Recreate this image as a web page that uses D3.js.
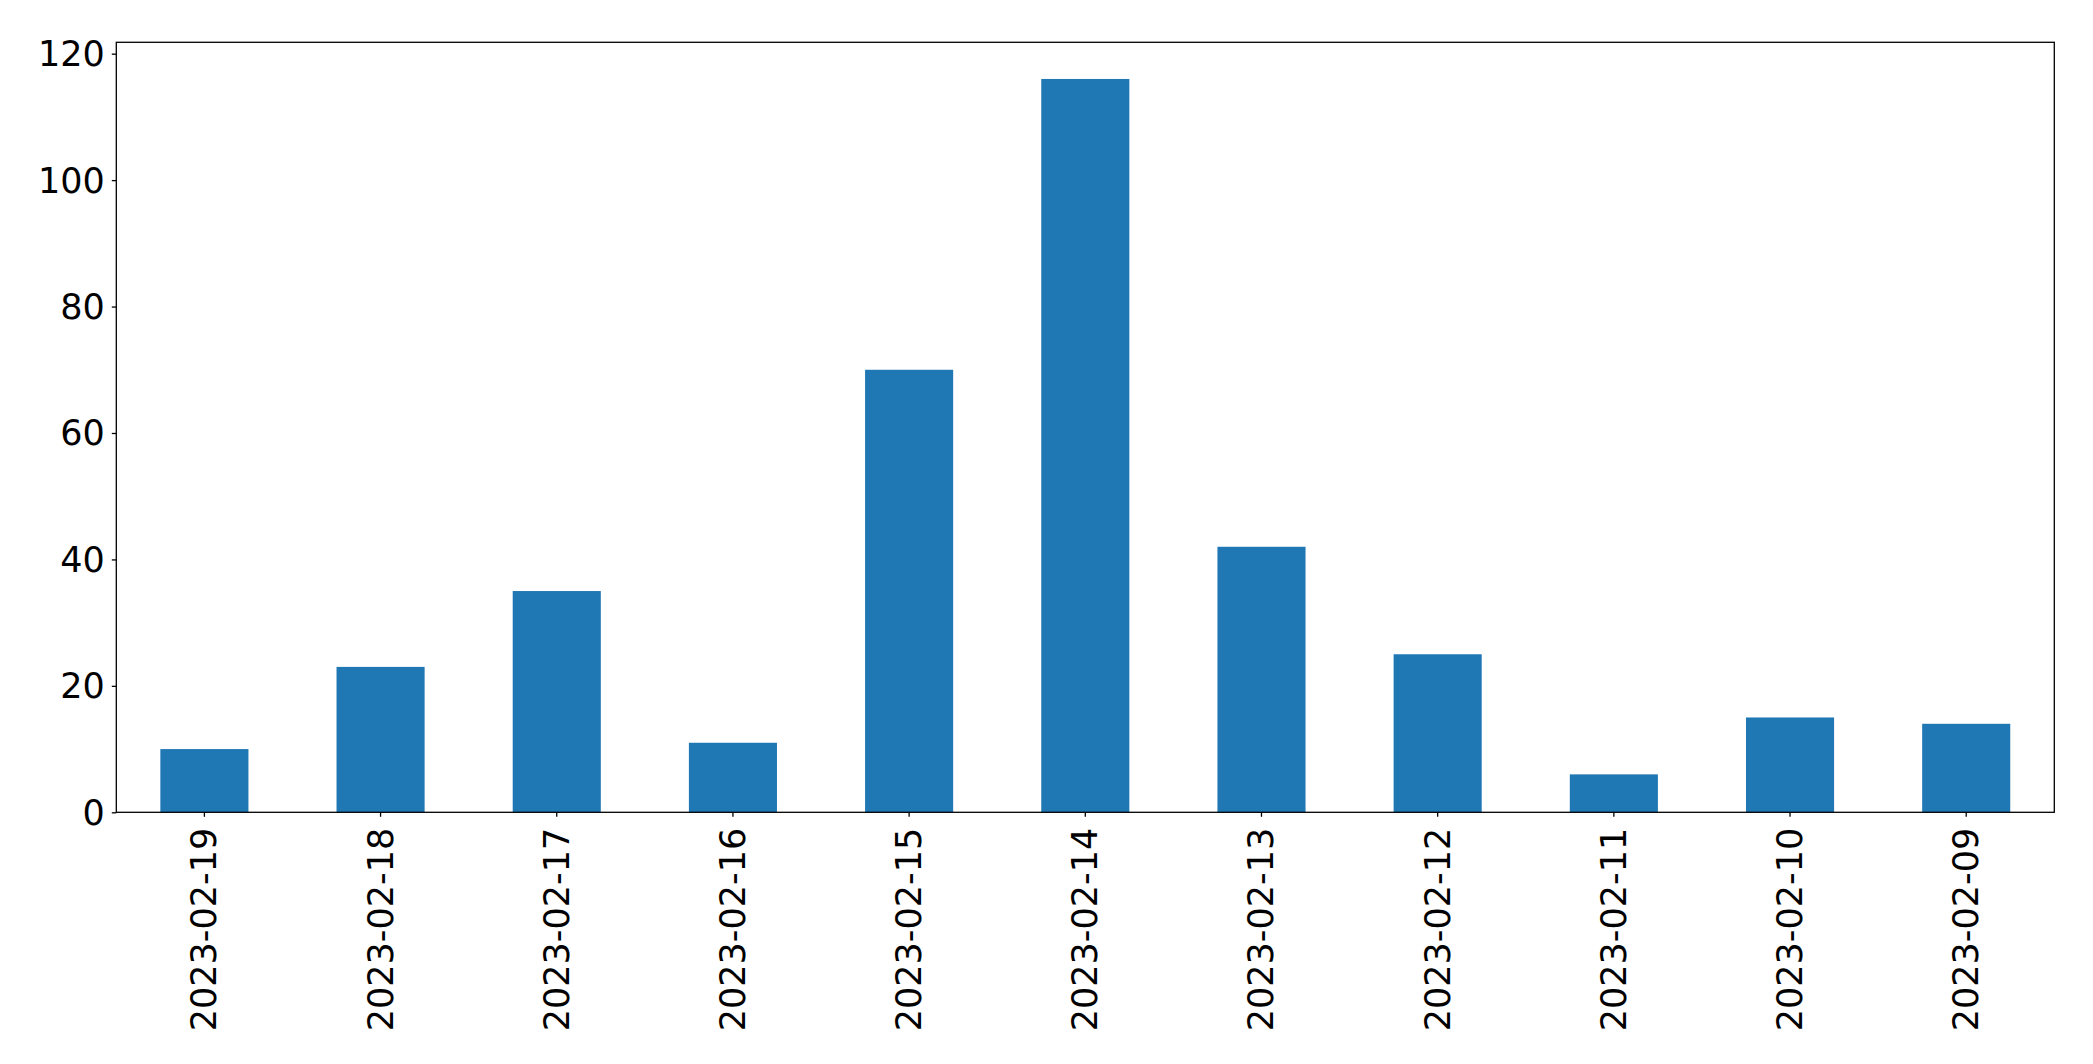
<!DOCTYPE html>
<html>
<head>
<meta charset="utf-8">
<script src="https://cdn.jsdelivr.net/npm/d3@7"></script>
<style>
  html, body { margin: 0; padding: 0; background: #fff; }
  svg { display: block; }
</style>
</head>
<body>
<svg id="chart" width="2093" height="1064"></svg>
<script>
const categories = ["2023-02-19","2023-02-18","2023-02-17","2023-02-16","2023-02-15","2023-02-14","2023-02-13","2023-02-12","2023-02-11","2023-02-10","2023-02-09"];
const values = [10, 23, 35, 11, 70, 116, 42, 25, 6, 15, 14];
const yTicks = [0, 20, 40, 60, 80, 100, 120];

const W = 2093, H = 1064;
const margin = { left: 116.3, right: W - 2054.3, top: 42.3, bottom: H - 812.3 };
const iw = W - margin.left - margin.right;
const ih = H - margin.top - margin.bottom;
const fontSize = 35;
const tickLen = 4.5;

const svg = d3.select("#chart");
const g = svg.append("g").attr("transform", `translate(${margin.left},${margin.top})`);

const x = d3.scaleBand().domain(categories).range([0, iw]).paddingInner(0.5).paddingOuter(0.25);
const yMax = d3.max(values) * 1.05;
const y = d3.scaleLinear().domain([0, yMax]).range([ih, 0]);

g.selectAll("rect.bar").data(values).join("rect")
  .attr("class", "bar")
  .attr("x", (d, i) => x(categories[i]))
  .attr("width", x.bandwidth())
  .attr("y", d => y(d))
  .attr("height", d => y(0) - y(d))
  .attr("fill", "#1f77b4");

// Y axis
const yAxis = d3.axisLeft(y).tickValues(yTicks).tickSize(tickLen).tickPadding(7).tickFormat(d3.format("d"));
const ya = g.append("g").call(yAxis);
ya.select(".domain").remove();
ya.selectAll(".tick line").attr("stroke", "#000").attr("stroke-width", 1.3);
ya.selectAll(".tick text")
  .attr("font-family", "DejaVu Sans")
  .attr("font-size", fontSize)
  .attr("fill", "#000")
  .attr("dy", null)
  .attr("dominant-baseline", "central");

// X axis
const xAxis = d3.axisBottom(x).tickSize(tickLen).tickPadding(0);
const xa = g.append("g").attr("transform", `translate(0,${ih})`).call(xAxis);
xa.select(".domain").remove();
xa.selectAll(".tick line").attr("stroke", "#000").attr("stroke-width", 1.3);
xa.selectAll(".tick text")
  .attr("font-family", "DejaVu Sans")
  .attr("font-size", fontSize)
  .attr("fill", "#000")
  .attr("y", null)
  .attr("dy", null)
  .attr("text-anchor", "end")
  .attr("dominant-baseline", "central")
  .attr("transform", `translate(0,${tickLen + 11}) rotate(-90)`);

// Frame
g.append("rect")
  .attr("x", 0).attr("y", 0).attr("width", iw).attr("height", ih)
  .attr("fill", "none").attr("stroke", "#000").attr("stroke-width", 1.3);
</script>
</body>
</html>
